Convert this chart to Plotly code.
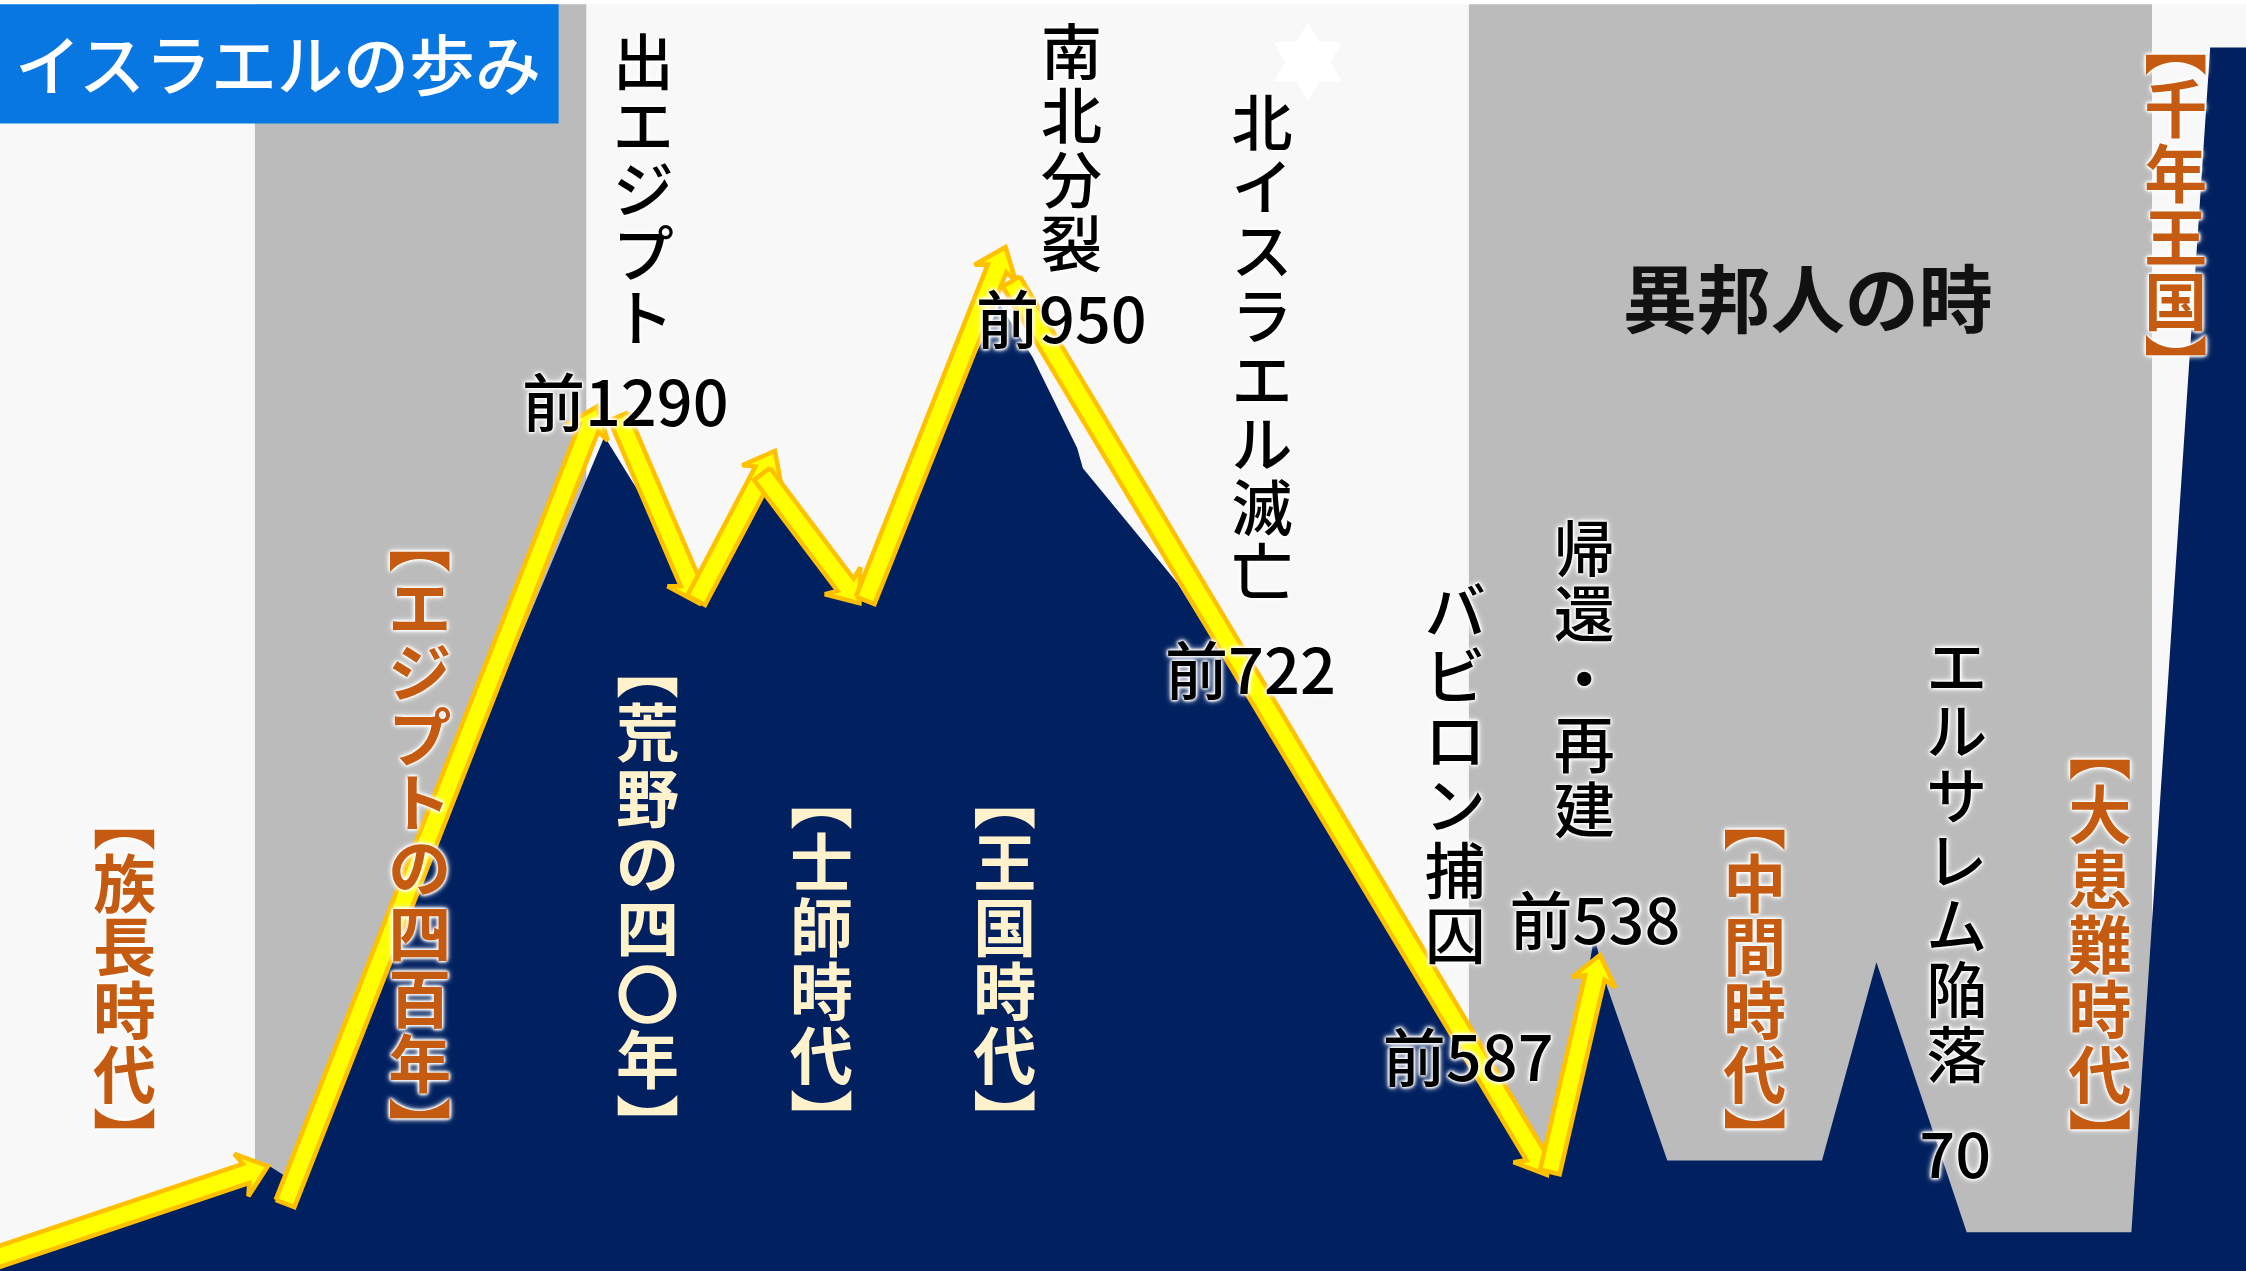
import numpy as np
import plotly.graph_objects as go

# ---------------- data (chart units: x across, level = height from bottom) ----------------
band_start = [0, 178, 409.5, 1025.5, 1502.5]
band_end = [178, 409.5, 1025.5, 1502.5, 1568]
band_shade = ["light", "gray", "light", "gray", "light"]

# outline of the "history level" mountain
mount_x = [0, 185, 204, 422, 489, 537, 600, 698, 721, 752, 756, 822, 1073, 1085,
           1113, 1122, 1164, 1272, 1310, 1373, 1488, 1543, 1568]
mount_lvl = [8, 75, 63, 581, 473, 555, 473, 673, 636, 573, 559, 479, 73, 73,
             233, 198, 77, 77, 215, 27, 27, 852, 852]

# path of the yellow arrows (from -> to)
arrow_x0 = [-4, 199, 432, 486, 532, 604, 706, 1082]
arrow_l0 = [9, 47, 595, 467, 555, 467, 689, 69]
arrow_x1 = [187, 417, 488, 541, 600, 702, 1080, 1117]
arrow_l1 = [73, 602, 465, 571, 465, 713, 67, 220]

# events (vertical text)
event_text = ["出エジプト", "南北分裂", "北イスラエル滅亡", "バビロン捕囚", "帰還・再建", "エルサレム陥落"]
event_x = [449, 748, 881, 1016, 1106, 1366]
event_top = [859, 866, 816, 477, 520, 438]
event_pitch = [44.6, 44.7, 44.6, 45.3, 45.4, 45.1]

# years
year_text = ["前1290", "前950", "前722", "前587", "前538", "70"]
year_x = [436.5, 741, 873, 1025, 1113.5, 1365]
year_lvl = [599, 657, 413, 143, 238.5, 76]

# periods (vertical text)
period_text = ["【族長時代】", "【エジプトの四百年】", "【荒野の四〇年】", "【士師時代】",
               "【王国時代】", "【中間時代】", "【大患難時代】", "【千年王国】"]
period_x = [87, 293, 452, 573.5, 701.5, 1225, 1466, 1519]
period_top = [331.5, 525, 437.5, 346, 346, 331.5, 380, 871]
period_pitch = [44.5, 45.4, 45.5, 44.8, 44.8, 44.5, 45.2, 44.75]
period_on_navy = [False, False, True, True, True, False, False, False]

title_text = "イスラエルの歩み"
gentile_text = "異邦人の時"
gentile_pos = (1262, 670)
star_pos = (913, 842)

# ---------------- styling ----------------
X_MAX, Y_MAX = 1568, 885
FONT = "Noto Sans CJK JP"
LIGHT, GRAY, NAVY = "#f8f8f8", "#bbbbbb", "#002060"
YELLOW, GOLD = "#ffff00", "#ffc000"
ORANGE, CREAM = "#c55a11", "#fff2cc"
HALO = ("0px 0px 3px #ffffff, 0px 0px 3px #ffffff, 0px 0px 3px #ffffff, "
        "0px 0px 5px #ffffff, 0px 0px 7px #ffffff")

fig = go.Figure()

shapes = []
for x0, x1, s in zip(band_start, band_end, band_shade):
    shapes.append(dict(type="rect", xref="x", yref="y", x0=x0, x1=x1, y0=0, y1=882,
                       fillcolor=LIGHT if s == "light" else GRAY, line_width=0, layer="below"))
# title box
shapes.append(dict(type="rect", xref="x", yref="y", x0=0, x1=390, y0=799, y1=882,
                   fillcolor="#0877e2", line_width=0, layer="below"))

# mountain
fig.add_trace(go.Scatter(
    x=[0] + mount_x + [X_MAX, 0], y=[0] + mount_lvl + [0, 0],
    mode="lines", fill="toself", fillcolor=NAVY, line=dict(width=0, color=NAVY),
    hoverinfo="skip", showlegend=False))


def arrow_poly(x0, y0, x1, y1, sw=7.0, hw=15.5, hl=16.0, sweep=3.5):
    d = np.array([x1 - x0, y1 - y0], dtype=float)
    d /= np.hypot(*d)
    n = np.array([-d[1], d[0]])
    p0 = np.array([x0, y0], dtype=float)
    tip = np.array([x1, y1], dtype=float)
    neck = tip - d * hl
    barb = neck - d * sweep
    pts = [p0 + n * sw, neck + n * sw, barb + n * hw, tip,
           barb - n * hw, neck - n * sw, p0 - n * sw, p0 + n * sw]
    pts = np.array(pts)
    return pts[:, 0], pts[:, 1]


for a in range(len(arrow_x0)):
    px, py = arrow_poly(arrow_x0[a], arrow_l0[a], arrow_x1[a], arrow_l1[a])
    fig.add_trace(go.Scatter(
        x=px, y=py, mode="lines", fill="toself", fillcolor=YELLOW,
        line=dict(color=GOLD, width=4.5, shape="linear"),
        hoverinfo="skip", showlegend=False))

# star of David
fig.add_trace(go.Scatter(
    x=[star_pos[0]], y=[star_pos[1]], mode="markers",
    marker=dict(symbol="hexagram", size=60, color="#ffffff", line_width=0),
    hoverinfo="skip", showlegend=False))


def vertical(txt):
    return list(txt.replace("【", "\ufe3b").replace("】", "\ufe3c"))


# event labels
for t, x, top, p in zip(event_text, event_x, event_top, event_pitch):
    chars = vertical(t)
    ys = [top - p * (i + 0.5) for i in range(len(chars))]
    fig.add_trace(go.Scatter(
        x=[x] * len(chars), y=ys, text=chars, mode="text", textposition="middle center",
        textfont=dict(family=FONT, size=61, color="#000000", weight=500, shadow=HALO),
        hoverinfo="skip", showlegend=False))

# period labels
for t, x, top, p, nav in zip(period_text, period_x, period_top, period_pitch, period_on_navy):
    chars = vertical(t)
    ys = [top - p * (i + 0.5) for i in range(len(chars))]
    fig.add_trace(go.Scatter(
        x=[x] * len(chars), y=ys, text=chars, mode="text", textposition="middle center",
        textfont=dict(family=FONT, size=63, color=CREAM if nav else ORANGE,
                      weight="bold", shadow="none" if nav else HALO),
        hoverinfo="skip", showlegend=False))

# years
fig.add_trace(go.Scatter(
    x=year_x, y=year_lvl, text=year_text, mode="text", textposition="middle center",
    textfont=dict(family=FONT, size=63, color="#000000", weight=500, shadow=HALO),
    hoverinfo="skip", showlegend=False))

# gentile times
fig.add_trace(go.Scatter(
    x=[gentile_pos[0]], y=[gentile_pos[1]], text=[gentile_text], mode="text",
    textposition="middle center",
    textfont=dict(family=FONT, size=74, color="#111111", weight="bold"),
    hoverinfo="skip", showlegend=False))

annotations = [dict(x=194, y=842.5, xref="x", yref="y", text=title_text, showarrow=False,
                    font=dict(family=FONT, size=66, color="#ffffff", weight=500),
                    xanchor="center", yanchor="middle")]

fig.update_layout(
    width=2246, height=1271, margin=dict(l=0, r=0, t=0, b=0),
    paper_bgcolor="#ffffff", plot_bgcolor="#ffffff",
    xaxis=dict(range=[0, X_MAX], visible=False, fixedrange=True),
    yaxis=dict(range=[0, Y_MAX], visible=False, fixedrange=True),
    shapes=shapes, annotations=annotations, showlegend=False)

fig.write_html("out.html", config={"displayModeBar": False},
               post_script="document.body.style.margin='0px';document.body.style.overflow='hidden';")
